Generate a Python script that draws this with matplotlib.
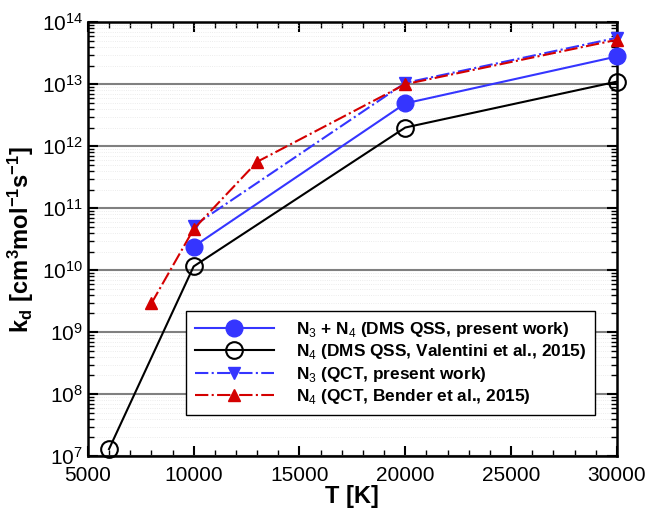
import matplotlib

matplotlib.use("Agg")
import matplotlib.pyplot as plt
from matplotlib.ticker import LogLocator, MultipleLocator, NullFormatter

plt.rcParams["font.family"] = ["Liberation Sans", "DejaVu Sans"]
plt.rcParams["mathtext.fontset"] = "custom"
plt.rcParams["mathtext.rm"] = "Liberation Sans"
plt.rcParams["mathtext.bf"] = "Liberation Sans:bold"

BLUE, RED = "#3535ff", "#d40000"

# ---------------------------------------------------------------- data
t_dms = [10000, 20000, 30000]
k_dms = [2.4e10, 4.9e12, 2.8e13]
t_val = [6000, 10000, 20000, 30000]
k_val = [1.3e7, 1.15e10, 2.0e12, 1.1e13]
t_qct = [10000, 20000, 30000]
k_qct = [5.2e10, 1.05e13, 5.6e13]
t_bend = [8000, 10000, 13000, 20000, 30000]
k_bend = [2.9e9, 4.6e10, 5.6e11, 1.0e13, 5.2e13]

labels = [r"N$_3$ + N$_4$ (DMS QSS, present work)",
          r"N$_4$ (DMS QSS, Valentini et al., 2015)",
          r"N$_3$ (QCT, present work)",
          r"N$_4$ (QCT, Bender et al., 2015)"]

# ---------------------------------------------------------------- plot
fig = plt.figure(figsize=(6.46, 5.16), dpi=100)
ax = fig.add_axes([0.136, 0.116, 0.819, 0.841])

kw = dict(lw=1.5, zorder=4, clip_on=False)
ax.plot(t_dms, k_dms, "-o", color=BLUE, ms=12, label=labels[0], **kw)
ax.plot(t_val, k_val, "-o", color="black", ms=12, mfc="none", mew=1.5,
        label=labels[1], **kw)
ax.plot(t_qct, k_qct, "-.v", color=BLUE, ms=9, label=labels[2], **kw)
ax.plot(t_bend, k_bend, "-.^", color=RED, ms=9, label=labels[3], **kw)

ax.set_yscale("log")
ax.set_xlim(5000, 30000)
ax.set_ylim(1e7, 1e14)
ax.xaxis.set_major_locator(MultipleLocator(5000))
ax.xaxis.set_minor_locator(MultipleLocator(1000))
ax.yaxis.set_major_locator(LogLocator(base=10, numticks=20))
ax.yaxis.set_minor_locator(LogLocator(base=10, subs=range(2, 10), numticks=20))
ax.yaxis.set_minor_formatter(NullFormatter())

ax.grid(axis="y", which="major", color="#808080", lw=1.5, zorder=1)
ax.grid(axis="y", which="minor", color="#e6e6e6", lw=0.6, ls=":", zorder=1)
ax.tick_params(which="both", direction="in", top=True, right=True,
               labelsize=15)
ax.tick_params(axis="x", pad=7)
ax.tick_params(which="major", length=7, width=1.5)
ax.tick_params(which="minor", length=4, width=1)
for s in ax.spines.values():
    s.set_linewidth(1.8)

ax.set_xlabel("T [K]", fontsize=17, fontweight="bold", labelpad=0)
ax.set_ylabel(r"$\mathbf{k_d\ [cm^3 mol^{-1} s^{-1}]}$", fontsize=17)

leg = ax.legend(loc="lower right", bbox_to_anchor=(0.975, 0.075),
                fancybox=False, framealpha=1, edgecolor="black",
                handlelength=4.6, handletextpad=1.3,
                prop={"weight": "bold", "size": 12.4},
                borderpad=0.5, labelspacing=0.2)
leg.get_frame().set_linewidth(1.0)
leg.set_zorder(5)

fig.savefig("out.png", dpi=100)
